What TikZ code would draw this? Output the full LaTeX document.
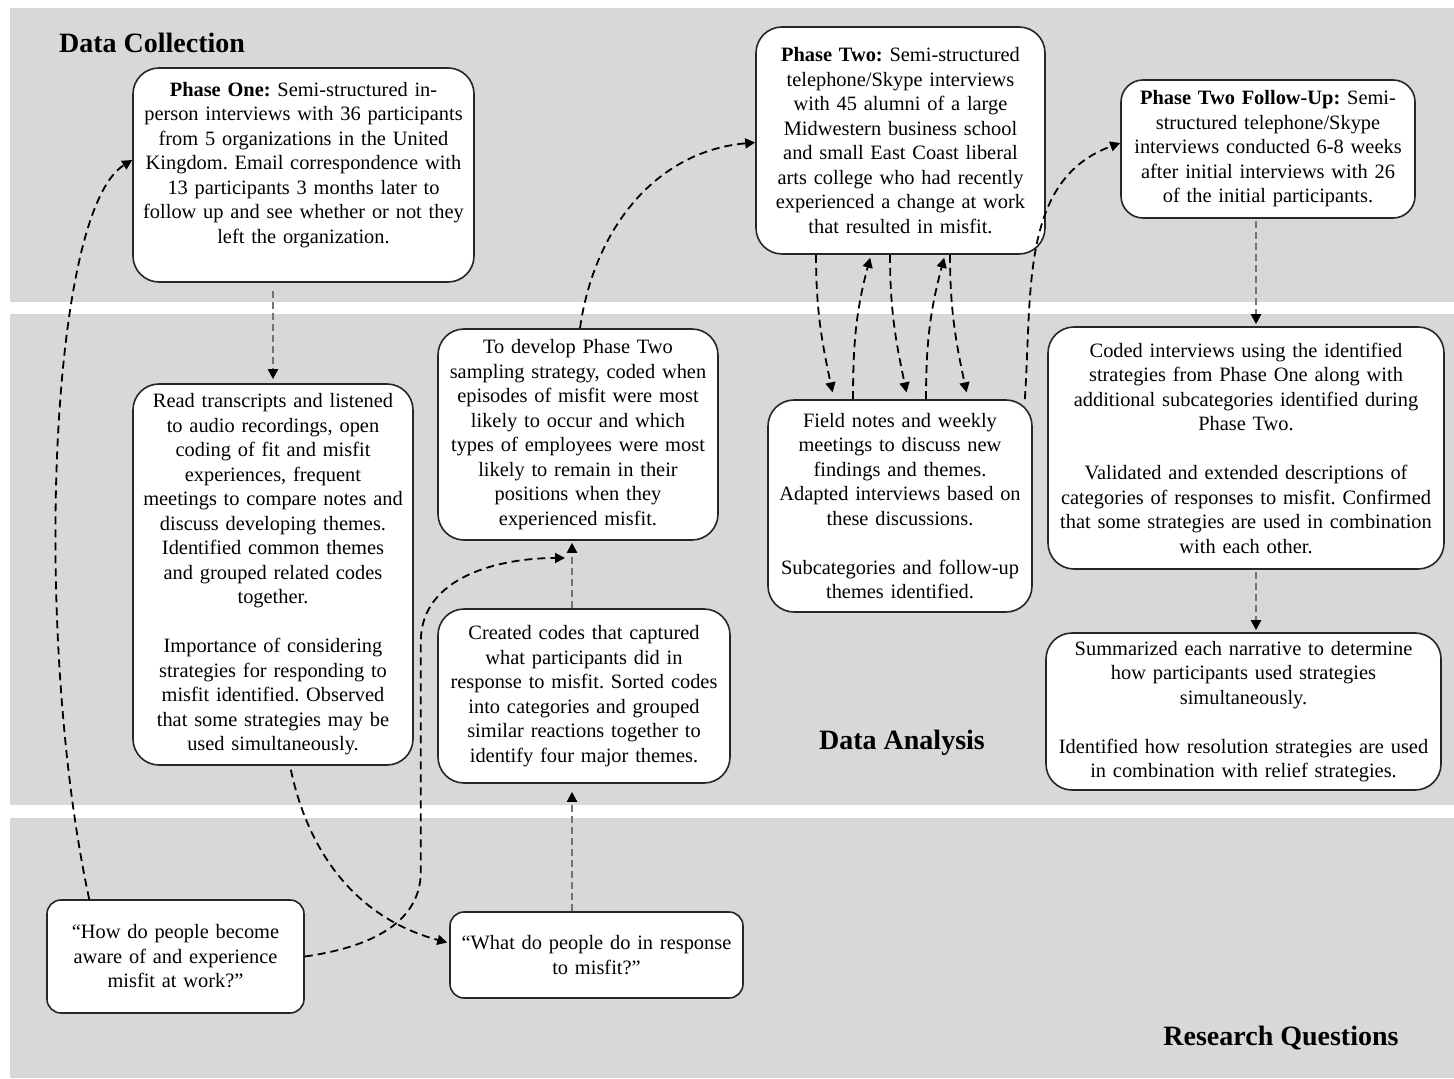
\documentclass[tikz,border=0pt]{standalone}
\usepackage{fontspec}
\setmainfont{Liberation Serif}
\usetikzlibrary{arrows.meta}
\definecolor{bandgray}{RGB}{216,216,216}
\frenchspacing

\begin{document}
\begin{tikzpicture}[x=0.5pt,y=-0.5pt,
        stagebox/.style={draw=black!85, line width=0.8pt, fill=white, rounded corners=13pt, align=center,
            inner xsep=3pt, inner ysep=2pt, font=\fontsize{10.2}{12.25}\selectfont},
        qbox/.style={stagebox, rounded corners=7pt},
        bandtitle/.style={font=\fontsize{14}{16}\selectfont\bfseries},
        link/.style={black, line width=0.9pt, dash pattern=on 4pt off 2.5pt, -{Triangle[length=5pt,width=5pt]}},
        vlink/.style={link, draw=black!55, line width=1.1pt, dash pattern=on 3.5pt off 2pt,
            -{Triangle[length=5pt,width=5pt,color=black]}}]
        \useasboundingbox (0,0) rectangle (1454,1079);

        % bands
        \fill[bandgray] (10,8) rectangle (1454,302); %collection
        \fill[bandgray] (10,314) rectangle (1454,805); %analysis
        \fill[bandgray] (10,818) rectangle (1454,1078); %questions

        \node[bandtitle, anchor=west] (tcollect) at (52,43) {Data Collection};
        \node[bandtitle] (tanalysis) at (902,743) {Data Analysis};
        \node[bandtitle] (tquestions) at (1281,1038) {Research Questions};

        % data collection
        \node[stagebox, text width=164.5pt, minimum height=107pt] (phaseone) at (303.5,175)
            {\textbf{Phase One:} Semi-structured in-\\person interviews with 36 participants\\from 5 organizations in the United\\Kingdom. Email correspondence with\\13 participants 3 months later to\\follow up and see whether or not they\\left the organization.\\\mbox{}};
        \node[stagebox, text width=138.5pt, minimum height=113.5pt] (phasetwo) at (900.5,140.5)
            {\textbf{Phase Two:} Semi-structured\\telephone/Skype interviews\\with 45 alumni of a large\\Midwestern business school\\and small East Coast liberal\\arts college who had recently\\experienced a change at work\\that resulted in misfit.};
        \node[stagebox, rounded corners=11pt, text width=141pt, minimum height=69pt] (followup) at (1268,149)
            {\textbf{Phase Two Follow-Up:} Semi-\\structured telephone/Skype\\interviews conducted 6-8 weeks\\after initial interviews with 26\\of the initial participants.};

        % data analysis
        \node[stagebox, text width=134pt, minimum height=190.5pt] (readtrans) at (273,574.5)
            {Read transcripts and listened\\to audio recordings, open\\coding of fit and misfit\\experiences, frequent\\meetings to compare notes and\\discuss developing themes.\\Identified common themes\\and grouped related codes\\together.\\[12.25pt]Importance of considering\\strategies for responding to\\misfit identified. Observed\\that some strategies may be\\used simultaneously.};
        \node[stagebox, text width=134pt, minimum height=105.5pt] (develop) at (578,434.5)
            {To develop Phase Two\\sampling strategy, coded when\\episodes of misfit were most\\likely to occur and which\\types of employees were most\\likely to remain in their\\positions when they\\experienced misfit.};
        \node[stagebox, text width=140pt, minimum height=87pt] (created) at (584,696)
            {Created codes that captured\\what participants did in\\response to misfit. Sorted codes\\into categories and grouped\\similar reactions together to\\identify four major themes.};
        \node[stagebox, text width=126pt, minimum height=106pt] (fieldnotes) at (900,506)
            {Field notes and weekly\\meetings to discuss new\\findings and themes.\\Adapted interviews based on\\these discussions.\\[12.25pt]Subcategories and follow-up\\themes identified.};
        \node[stagebox, text width=192pt, minimum height=121pt] (coded) at (1246,448)
            {Coded interviews using the identified\\strategies from Phase One along with\\additional subcategories identified during\\Phase Two.\\[12.25pt]Validated and extended descriptions of\\categories of responses to misfit. Confirmed\\that some strategies are used in combination\\with each other.};
        \node[stagebox, text width=191.5pt, minimum height=78.5pt] (summ) at (1243.5,711.5)
            {Summarized each narrative to determine\\how participants used strategies\\simultaneously.\\[12.25pt]Identified how resolution strategies are used\\in combination with relief strategies.};

        % research questions
        \node[qbox, text width=122.5pt, minimum height=56.5pt] (howq) at (175.5,956.5)
            {“How do people become\\aware of and experience\\misfit at work?”};
        \node[qbox, text width=140.5pt, minimum height=43pt] (whatq) at (596.5,955)
            {“What do people do in response\\to misfit?”};

        \coordinate (midcol) at (572,0);
        \coordinate (rcol) at (1256,0);
        \coordinate (devin) at (565,558);

        % straight links
        \draw[vlink, shorten <=4pt, shorten >=2pt] (phaseone.south -| readtrans.north) -- (readtrans.north);
        \draw[vlink, shorten >=1pt] (created.north -| midcol) -- (develop.south -| midcol);
        \draw[vlink, shorten >=4pt] (whatq.north -| midcol) -- (created.south -| midcol);
        \draw[vlink, shorten <=1pt, shorten >=1pt] (followup.south -| rcol) -- (coded.north -| rcol);
        \draw[vlink, shorten <=1pt, shorten >=1pt] (coded.south -| rcol) -- (summ.north -| rcol);

        % curved links
        \draw[link] ([xshift=21.5pt]howq.north west) .. controls +(-28pt,130pt) and +(-42pt,-26pt) .. ([yshift=7.5pt]phaseone.west);
        \draw[link] (howq.east) to[out=8, in=-90] ++(58pt,42.5pt) -- ++(0,115pt) to[out=90, in=180] (devin);
        \draw[link, shorten <=2pt, shorten >=1pt] ([xshift=8.5pt]readtrans.south) to[out=-78, in=165] ([yshift=6pt]whatq.west);
        \draw[link] ([xshift=1pt]develop.north) to[out=82, in=185] ([yshift=-1pt]phasetwo.west);
        \draw[link] ([xshift=-4pt]fieldnotes.north east) to[out=86, in=200] ([yshift=3pt]followup.west);

        % phase two <-> field notes
        \draw[link, shorten >=3.5pt] ([xshift=-42.25pt]phasetwo.south) to[out=-90, in=102] ([xshift=-33pt]fieldnotes.north);
        \draw[link, shorten >=1.5pt] ([xshift=-23.5pt]fieldnotes.north) to[out=90, in=-105] ([xshift=-14.75pt]phasetwo.south);
        \draw[link, shorten >=3.5pt] ([xshift=-5.25pt]phasetwo.south) to[out=-90, in=102] ([xshift=4pt]fieldnotes.north);
        \draw[link, shorten >=1.5pt] ([xshift=13pt]fieldnotes.north) to[out=90, in=-105] ([xshift=22.25pt]phasetwo.south);
        \draw[link, shorten >=3.5pt] ([xshift=24.75pt]phasetwo.south) to[out=-90, in=102] ([xshift=34pt]fieldnotes.north);
    \end{tikzpicture}
\end{document}
